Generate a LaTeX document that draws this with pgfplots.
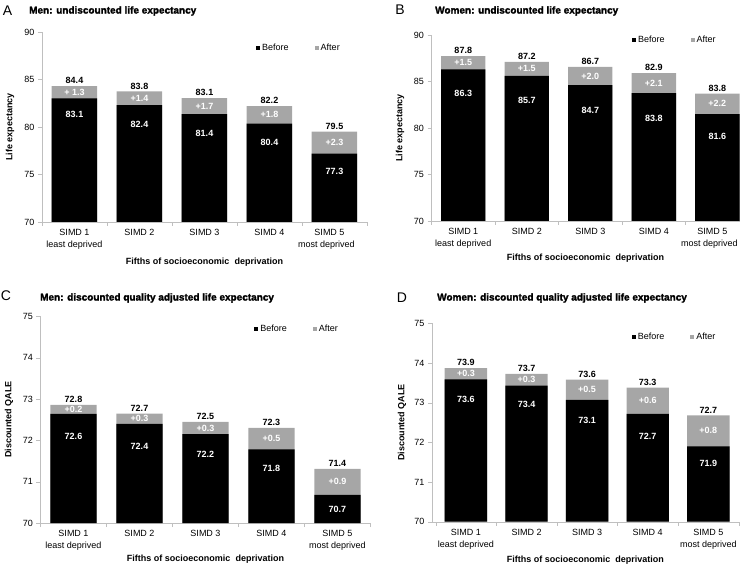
\documentclass[border=0pt]{standalone}
\usepackage{fontspec}
\setmainfont{Liberation Sans}
\newfontfamily\heavy[FakeBold=1.8]{Liberation Sans Bold}
\usepackage{pgfplots}
\pgfplotsset{compat=1.18}
\usepackage{pgfplotstable}
\definecolor{barg}{HTML}{A6A6A6}
\definecolor{axg}{HTML}{BFBFBF}

% x, before (b), total (t), middle of grey part (m), y of white label (w), labels
\pgfplotstableread{
x b t m w lb li lt
0 83.0 84.3 83.65 81.34 83.1 {+ 1.3} 84.4
1 82.3 83.75 83.03 80.26 82.4 +1.4 83.8
2 81.35 83.05 82.2 79.3 81.4 +1.7 83.1
3 80.35 82.2 81.28 78.33 80.4 +1.8 82.2
4 77.2 79.5 78.35 75.32 77.3 +2.3 79.5
}\tabA
\pgfplotstableread{
x b t m w lb li lt
0 86.3 87.72 87.01 83.68 86.3 +1.5 87.8
1 85.6 87.12 86.36 82.96 85.7 +1.5 87.2
2 84.6 86.58 85.59 81.88 84.7 +2.0 86.7
3 83.75 85.9 84.83 80.99 83.8 +2.1 82.9
4 81.5 83.7 82.6 79.09 81.6 +2.2 83.8
}\tabB
\pgfplotstableread{
x b t m w lb li lt
0 72.64 72.86 72.75 72.10 72.6 +0.2 72.8
1 72.40 72.65 72.53 71.85 72.4 +0.3 72.7
2 72.15 72.45 72.30 71.65 72.2 +0.3 72.5
3 71.78 72.30 72.04 71.31 71.8 +0.5 72.3
4 70.68 71.31 71.00 70.34 70.7 +0.9 71.4
}\tabC
\pgfplotstableread{
x b t m w lb li lt
0 73.59 73.87 73.73 73.08 73.6 +0.3 73.9
1 73.43 73.73 73.58 72.96 73.4 +0.3 73.7
2 73.07 73.58 73.33 72.55 73.1 +0.5 73.6
3 72.72 73.38 73.05 72.16 72.7 +0.6 73.3
4 71.90 72.68 72.29 71.46 71.9 +0.8 72.7
}\tabD

\pgfplotsset{
  simd/.style={
    scale only axis,
    anchor=south west,
    axis x line*=bottom, axis y line*=left,
    axis line style={-, draw=axg},
    xtick={0,...,4},
    xticklabels={{SIMD 1\\least deprived},{SIMD 2},{SIMD 3},{SIMD 4},{SIMD 5\\most deprived}},
    xticklabel style={align=center, font=\fontsize{9}{11.5}\selectfont},
    yticklabel style={font=\fontsize{9}{11}\selectfont},
    major x tick style={draw=none},
    minor xtick={-0.5,0.5,...,4.5},
    minor x tick style={draw=axg},
    ytick style={draw=axg},
    tick align=outside,
    major tick length=4pt, minor tick length=4pt,
    /pgf/number format/assume math mode=true,
    label style={font=\bfseries\fontsize{9}{11}\selectfont},
    xlabel={Fifths of socioeconomic\ \ deprivation},
    legend style={draw=none, fill=none, anchor=east, inner sep=1pt,
      font=\fontsize{9}{11}\selectfont,
      /tikz/every even column/.append style={column sep=24pt}},
    legend columns=2,
    legend image code/.code={\fill[##1, draw=none] (0pt,-2pt) rectangle (4pt,2pt);},
  },
  shifted/.style={xticklabels={{SIMD 1\\least deprived},{SIMD 2},{SIMD 3},{SIMD 4},
    {SIMD 5\hspace*{10pt}\\most deprived\hspace*{16pt}}}},
  barb/.style={ybar, bar width=0.7, bar shift=0pt, draw=none, fill=#1, forget plot},
  lbl/.style={draw=none, forget plot, nodes near coords, point meta=explicit symbolic,
    nodes near coords style={font=\bfseries\fontsize{9}{11}\selectfont, text=#1, anchor=center, inner sep=0pt}},
  lbltop/.style={draw=none, forget plot, nodes near coords, point meta=explicit symbolic,
    nodes near coords style={font=\bfseries\fontsize{9}{11}\selectfont, text=black, anchor=south, inner sep=2pt}},
}

\newcommand{\panel}[1]{%
  \addplot[barb=barg] table[x=x,y=t] {#1};
  \addplot[barb=black] table[x=x,y=b] {#1};
  \addplot[lbl=white] table[x=x,y=w,meta=lb] {#1};
  \addplot[lbl=white] table[x=x,y=m,meta=li] {#1};
  \addplot[lbltop] table[x=x,y=t,meta=lt] {#1};
  \addlegendimage{fill=black}\addlegendentry{Before}
  \addlegendimage{fill=barg}\addlegendentry{After}
}

\begin{document}
\begin{tikzpicture}
\path[use as bounding box] (0,0) rectangle (740pt,566pt);

\begin{axis}[simd, shifted, at={(42pt,344pt)}, width=325pt, height=190pt,
  xmin=-0.5, xmax=4.5, ymin=70, ymax=90, ytick={70,75,...,90},
  ylabel={Life expectancy},
  ylabel style={at={([xshift=-32pt]axis description cs:0,0.5)}, anchor=center},
  xlabel style={at={([yshift=-40pt]axis description cs:0.5,0)}, anchor=center},
  legend style={at={(axis description cs:0.926,0.914)}}]
\panel{\tabA}
\end{axis}

\begin{axis}[simd, shifted, at={(431.5pt,345pt)}, width=308pt, height=186pt,
  xmin=-0.5, xmax=4.35, ymin=70, ymax=90, ytick={70,75,...,90},
  ylabel={Life expectancy},
  ylabel style={at={([xshift=-31.5pt]axis description cs:0,0.5)}, anchor=center},
  xlabel style={at={([yshift=-37pt]axis description cs:0.5,0)}, anchor=center},
  legend style={at={(axis description cs:0.933,0.973)}}]
\panel{\tabB}
\end{axis}

\begin{axis}[simd, at={(40.5pt,43pt)}, width=330pt, height=206.6pt,
  xmin=-0.5, xmax=4.5, ymin=70, ymax=75, ytick={70,71,...,75},
  ylabel={Discounted QALE},
  ylabel style={at={([xshift=-31.5pt]axis description cs:0,0.5)}, anchor=center},
  xlabel style={at={([yshift=-36pt]axis description cs:0.5,0)}, anchor=center},
  legend style={at={(axis description cs:0.911,0.9375)}}]
\panel{\tabC}
\end{axis}

\begin{axis}[simd, at={(432pt,44.3pt)}, width=306.6pt, height=198.3pt,
  xmin=-0.56, xmax=4.5, ymin=70, ymax=75, ytick={70,71,...,75},
  ylabel={Discounted QALE},
  ylabel style={at={([xshift=-30pt]axis description cs:0,0.5)}, anchor=center},
  xlabel style={at={([yshift=-38pt]axis description cs:0.5,0)}, anchor=center},
  legend style={at={(axis description cs:0.935,0.933)}}]
\panel{\tabD}
\end{axis}

\begin{scope}[every node/.style={inner sep=0pt}]
\node[font=\fontsize{14}{16}\selectfont] at (7.5pt,555pt) {A};
\node[anchor=west, font=\heavy\fontsize{10}{12}\selectfont] at (29pt,555pt) {Men: undiscounted life expectancy};
\node[font=\fontsize{14}{16}\selectfont] at (400pt,556pt) {B};
\node[anchor=west, font=\heavy\fontsize{10}{12}\selectfont] at (435pt,555pt) {Women: undiscounted life expectancy};
\node[font=\fontsize{14}{16}\selectfont] at (6pt,270pt) {C};
\node[anchor=west, font=\heavy\fontsize{10}{12}\selectfont] at (40pt,268pt) {Men: discounted quality adjusted life expectancy};
\node[font=\fontsize{14}{16}\selectfont] at (402pt,268pt) {D};
\node[anchor=west, font=\heavy\fontsize{10}{12}\selectfont] at (437pt,268pt) {Women: discounted quality adjusted life expectancy};
\end{scope}
\end{tikzpicture}
\end{document}
